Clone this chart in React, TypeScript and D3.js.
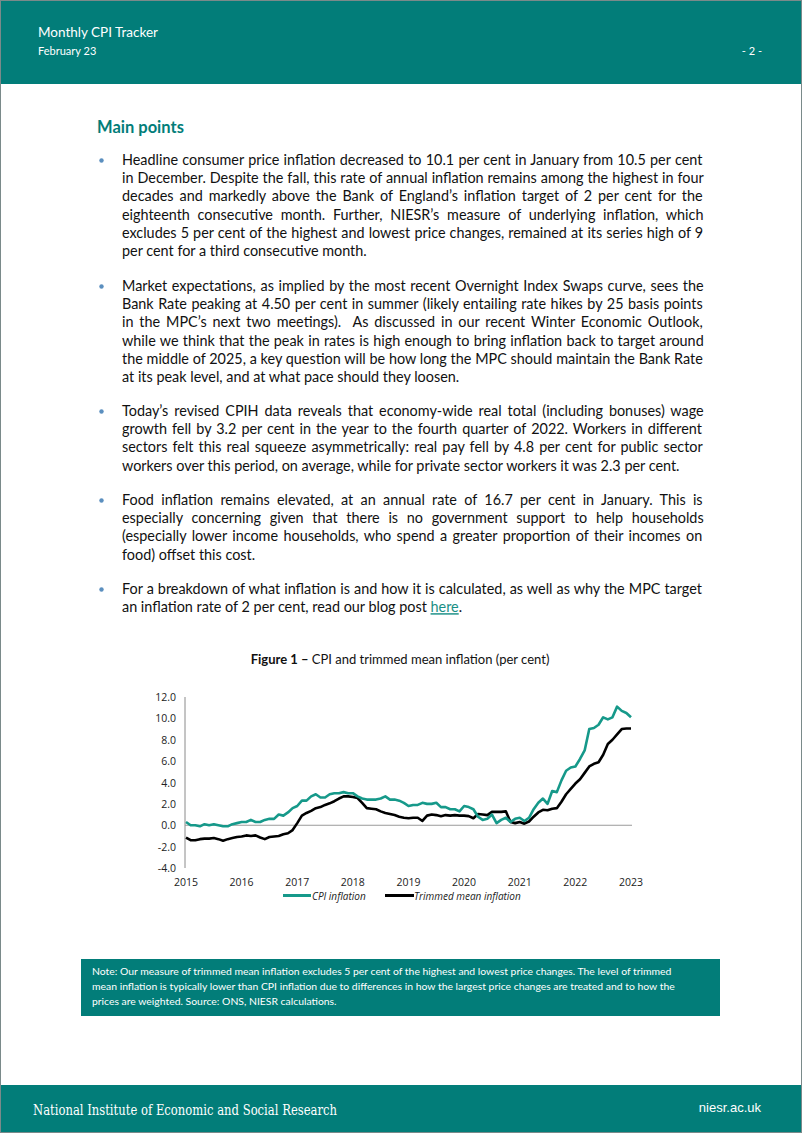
import React, { useEffect } from "react";
import * as d3 from "d3";

// Monthly values, Jan 2015 .. Jan 2023 (97 points)
const CPI_INFLATION = [
  0.3, 0.0, 0.0, -0.1, 0.1, 0.0, 0.1, 0.0, -0.1, -0.1, 0.1, 0.2,
  0.3, 0.3, 0.5, 0.3, 0.3, 0.5, 0.6, 0.6, 1.0, 0.9, 1.2, 1.6,
  1.8, 2.3, 2.3, 2.7, 2.9, 2.6, 2.6, 2.9, 3.0, 3.0, 3.1, 3.0,
  3.0, 2.7, 2.5, 2.4, 2.4, 2.4, 2.5, 2.7, 2.4, 2.4, 2.3, 2.1,
  1.8, 1.9, 1.9, 2.1, 2.0, 2.0, 2.1, 1.7, 1.7, 1.5, 1.5, 1.3,
  1.8, 1.7, 1.5, 0.8, 0.5, 0.6, 1.0, 0.2, 0.5, 0.7, 0.3, 0.6,
  0.7, 0.4, 0.7, 1.5, 2.1, 2.5, 2.0, 3.2, 3.1, 4.2, 5.1, 5.4,
  5.5, 6.2, 7.0, 9.0, 9.1, 9.4, 10.1, 9.9, 10.1, 11.1, 10.7, 10.5,
  10.1,
];

const TRIMMED_MEAN = [
  -1.15, -1.4, -1.4, -1.3, -1.25, -1.25, -1.2, -1.3, -1.45, -1.3, -1.2, -1.1,
  -1.05, -0.95, -1.0, -0.95, -1.15, -1.3, -1.1, -1.05, -1.0, -0.85, -0.75, -0.45,
  0.2, 0.9, 1.15, 1.35, 1.6, 1.7, 1.9, 2.05, 2.25, 2.5, 2.7, 2.7,
  2.65, 2.55, 2.1, 1.6, 1.55, 1.5, 1.3, 1.15, 1.05, 0.95, 0.8, 0.7,
  0.65, 0.7, 0.7, 0.4, 0.9, 1.0, 0.95, 0.85, 0.95, 0.9, 0.95, 0.9,
  0.9, 0.85, 0.65, 1.05, 1.0, 0.95, 1.25, 1.25, 1.25, 1.3, 0.3, 0.2,
  0.3, 0.15, 0.35, 0.8, 1.2, 1.45, 1.4, 1.55, 1.6, 2.2, 2.9, 3.4,
  3.9, 4.3, 4.9, 5.5, 5.75, 5.9, 6.6, 7.6, 8.0, 8.5, 9.0, 9.05,
  9.05,
];

const YEAR_LABELS = ["2015", "2016", "2017", "2018", "2019", "2020", "2021", "2022", "2023"];
const Y_TICKS = [12, 10, 8, 6, 4, 2, 0, -2, -4];
const SERIES_NAMES = ["CPI inflation", "Trimmed mean inflation"];

const PARAGRAPHS: string[][] = [
  [
    "Headline consumer price inflation decreased to 10.1 per cent in January from 10.5 per cent",
    "in December. Despite the fall, this rate of annual inflation remains among the highest in four",
    "decades and markedly above the Bank of England\u2019s inflation target of 2 per cent for the",
    "eighteenth consecutive month. Further, NIESR\u2019s measure of underlying inflation, which",
    "excludes 5 per cent of the highest and lowest price changes, remained at its series high of 9",
    "per cent for a third consecutive month.",
  ],
  [
    "Market expectations, as implied by the most recent Overnight Index Swaps curve, sees the",
    "Bank Rate peaking at 4.50 per cent in summer (likely entailing rate hikes by 25 basis points",
    "in the MPC\u2019s next two meetings).  As discussed in our recent Winter Economic Outlook,",
    "while we think that the peak in rates is high enough to bring inflation back to target around",
    "the middle of 2025, a key question will be how long the MPC should maintain the Bank Rate",
    "at its peak level, and at what pace should they loosen.",
  ],
  [
    "Today\u2019s revised CPIH data reveals that economy-wide real total (including bonuses) wage",
    "growth fell by 3.2 per cent in the year to the fourth quarter of 2022. Workers in different",
    "sectors felt this real squeeze asymmetrically: real pay fell by 4.8 per cent for public sector",
    "workers over this period, on average, while for private sector workers it was 2.3 per cent.",
  ],
  [
    "Food inflation remains elevated, at an annual rate of 16.7 per cent in January. This is",
    "especially concerning given that there is no government support to help households",
    "(especially lower income households, who spend a greater proportion of their incomes on",
    "food) offset this cost.",
  ],
  [
    "For a breakdown of what inflation is and how it is calculated, as well as why the MPC target",
  ],
];
const PARA_TOPS = [165, 291, 416, 505, 594];

const NOTE_LINES = [
  "Note: Our measure of trimmed mean inflation excludes 5 per cent of the highest and lowest price changes. The level of trimmed",
  "mean inflation is typically lower than CPI inflation due to differences in how the largest price changes are treated and to how the",
  "prices are weighted. Source: ONS, NIESR calculations.",
];

const TEAL = "#027d79";
const LINE_TEAL = "#16998a";
const FONT = "Lato, 'Open Sans', sans-serif";
const BODY_SIZE = 14.4;

let ctx: CanvasRenderingContext2D | null = null;
function measure(text: string, font: string): number {
  if (!ctx) {
    const c = document.createElement("canvas");
    ctx = c.getContext("2d");
  }
  if (!ctx) return text.length * 6.5;
  ctx.font = font;
  return ctx.measureText(text).width;
}

export default function App() {
  useEffect(() => {
    document.body.style.margin = "0";
  }, []);

  const W = 802;
  const H = 1133;
  const x = d3.scaleLinear().domain([0, 96]).range([186, 631]);
  const y = d3.scaleLinear().domain([-4, 12]).range([868, 697]);
  const line = d3
    .line<number>()
    .x((_, i) => x(i))
    .y((d) => y(d));

  const lineH = 18.2;
  const textLeft = 122;
  const textRight = 704;
  const bodyFont = `${BODY_SIZE}px Lato`;

  return (
    <svg
      width={W}
      height={H}
      viewBox={`0 0 ${W} ${H}`}
      style={{ position: "absolute", left: 0, top: 0, display: "block" }}
      fontFamily={FONT}
    >
      <rect x={0} y={0} width={W} height={H} fill="#fff" />
      {/* header */}
      <rect x={0} y={0} width={W} height={84} fill={TEAL} />
      <text x={38} y={37} fill="#fff" fontSize={13.5}>Monthly CPI Tracker</text>
      <text x={38} y={55} fill="#fff" fontSize={11}>February 23</text>
      <text x={762} y={55} fill="#fff" fontSize={11} textAnchor="end">- 2 -</text>

      {/* main points */}
      <text x={97} y={133} fill={TEAL} fontSize={16.5} fontWeight="bold">Main points</text>
      {PARAGRAPHS.map((para, pi) => (
        <g key={pi}>
          <circle cx={101.5} cy={PARA_TOPS[pi] - 4.5} r={2.2} fill="#5b8fbf" />
          {para.map((ln, li) => {
            const justify = li < para.length - 1 || pi === 4;
            let ws = 0;
            if (justify) {
              const natural = measure(ln, bodyFont);
              const spaces = (ln.match(/ /g) || []).length;
              ws = spaces > 0 ? Math.max(0, (textRight - textLeft - natural) / spaces) : 0;
            }
            return (
              <text
                key={li}
                x={textLeft}
                y={PARA_TOPS[pi] + li * lineH}
                fontSize={BODY_SIZE}
                fill="#111"
                style={{ wordSpacing: `${ws}px`, whiteSpace: "pre" }}
              >
                {ln}
              </text>
            );
          })}
        </g>
      ))}
      <text x={textLeft} y={PARA_TOPS[4] + lineH} fontSize={BODY_SIZE} fill="#111">
        an inflation rate of 2 per cent, read our blog post{" "}
        <tspan fill="#1a8f86" textDecoration="underline">here</tspan>.
      </text>

      {/* figure title */}
      <text x={400} y={664} fontSize={13} textAnchor="middle" fill="#111">
        <tspan fontWeight="bold">Figure 1 –</tspan> CPI and trimmed mean inflation (per cent)
      </text>

      {/* chart */}
      <g fontFamily="'Open Sans', Lato, sans-serif" fontSize={10.5} fill="#222">
        {Y_TICKS.map((t) => (
          <text key={t} x={176} y={y(t) + 4} textAnchor="end">
            {t.toFixed(1)}
          </text>
        ))}
        {YEAR_LABELS.map((lab, i) => (
          <text key={lab} x={x(i * 12)} y={886} textAnchor="middle">
            {lab}
          </text>
        ))}
      </g>
      <line x1={185} x2={185} y1={y(12)} y2={y(-4)} stroke="#8a8a8a" strokeWidth={1} />
      <line x1={185} x2={632} y1={y(0)} y2={y(0)} stroke="#9a9a9a" strokeWidth={1.2} />
      <path d={line(TRIMMED_MEAN) || ""} fill="none" stroke="#000" strokeWidth={2.6} strokeLinejoin="round" />
      <path d={line(CPI_INFLATION) || ""} fill="none" stroke={LINE_TEAL} strokeWidth={2.6} strokeLinejoin="round" />

      {/* legend */}
      <line x1={283} x2={311} y1={895.5} y2={895.5} stroke={LINE_TEAL} strokeWidth={3} />
      <text x={312} y={899.5} fontSize={10} fontStyle="italic" fontFamily="'Open Sans', Lato, sans-serif" fill="#222">
        {SERIES_NAMES[0]}
      </text>
      <line x1={385} x2={414} y1={895.5} y2={895.5} stroke="#000" strokeWidth={3} />
      <text x={414} y={899.5} fontSize={10} fontStyle="italic" fontFamily="'Open Sans', Lato, sans-serif" fill="#222">
        {SERIES_NAMES[1]}
      </text>

      {/* note box */}
      <rect x={81} y={959} width={639} height={57} fill={TEAL} />
      {NOTE_LINES.map((ln, i) => (
        <text key={i} x={92} y={975 + i * 15} fontSize={10.4} fill="#fff">
          {ln}
        </text>
      ))}

      {/* footer */}
      <rect x={0} y={1085} width={W} height={48} fill={TEAL} />
      <text
        x={33}
        y={1115}
        fontSize={14}
        fill="#fff"
        fontFamily="'DejaVu Serif', serif"
        textLength={304}
        lengthAdjust="spacingAndGlyphs"
      >
        National Institute of Economic and Social Research
      </text>
      <text x={761} y={1112} fontSize={13} fill="#fff" fontFamily="'Liberation Sans', Arial, sans-serif" textAnchor="end">
        niesr.ac.uk
      </text>
      <rect x={0.5} y={0.5} width={W - 1} height={H - 1} fill="none" stroke="#7a8a8a" strokeWidth={1} />
    </svg>
  );
}
